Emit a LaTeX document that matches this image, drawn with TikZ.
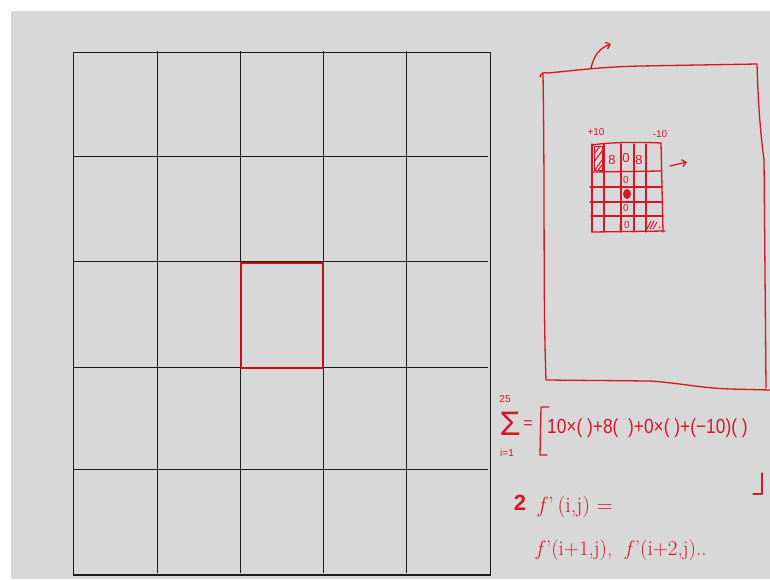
\documentclass[tikz,border=0pt]{standalone}
\usepackage{fontspec}
\setsansfont{Liberation Sans}
\usetikzlibrary{arrows.meta}
\definecolor{bg}{RGB}{216,216,216}
\definecolor{ink}{RGB}{28,28,28}
\definecolor{pen}{RGB}{214,22,38}
\definecolor{boxred}{RGB}{196,14,22}
\begin{document}
\begin{tikzpicture}[x=1pt,y=-1pt,
  gridout/.style={draw=ink,line width=1.6pt},
  gridin/.style={draw=ink,line width=1pt},
  hl/.style={draw=boxred,line width=2pt},
  pen/.style={draw=pen,line width=1.3pt,line cap=round,line join=round},
  hand/.style={text=pen,inner sep=0pt,font=\sffamily},
  small/.style={hand,font=\sffamily\fontsize{10}{10}\selectfont},
  cell/.style={hand,font=\sffamily\fontsize{13}{13}\selectfont},
  barb/.style={-{Straight Barb[length=4pt,width=7pt]}},
]
\useasboundingbox (0,0) rectangle (770,579);
\fill[white] (0,0) rectangle (770,579);
\fill[bg] (11,11) rectangle (770,579);
% big grid
\foreach \x in {157.3,240.3,323.3,406.3} \draw[gridin] (\x,51) -- (\x,573);
\foreach \y in {156,261.3,367.7,469.7} \draw[gridin] (72.5,\y) -- (487.7,\y);
\draw[gridout] (73.3,52.3) rectangle (490.3,575);
\draw[hl] (240.7,262.7) rectangle (323.3,367.7);
% hand-drawn image frame
\draw[pen] (540,77) .. controls (541,73) and (543,72) .. (548,73)
  .. controls (580,70) and (600,67) .. (640,66) -- (757,64)
  .. controls (758,100) and (760,130) .. (764,160) -- (766,388);
\draw[pen] (543,74) .. controls (545,200) and (543,300) .. (546,380)
  -- (650,381) .. controls (680,383) and (700,388) .. (730,389) -- (770,390);
\draw[pen,barb] (591,68) .. controls (594,55) and (600,48) .. (611,44);
% small kernel grid
\draw[pen] (592,145) .. controls (610,142) and (640,142) .. (661,143);
\foreach \x in {592,604,621,634,646} \draw[pen] (\x,144) -- (\x,232);
\draw[pen] (661,143) -- (663,232);
\draw[pen] (592,172) -- (661,171);
\draw[pen] (590,187) -- (662,187);
\draw[pen] (590,202) -- (662,202);
\draw[pen] (591,216) -- (663,216);
\draw[pen] (592,232) -- (665,231);
% hatches
\draw[pen,line width=1pt] (594,146) rectangle (602,170);
\draw[pen,line width=1pt] (594,154) -- (600,146) (594,162) -- (602,151) (595,170) -- (602,160) (598,170) -- (602,165);
\draw[pen,line width=1pt] (647,229) -- (651,221) (650,229) -- (654,221) (653,229) -- (657,222) (659,228) -- (660,227);
\draw[pen,line width=1pt] (620,224) -- (620,230) -- (622,229);
% kernel labels
\node[small] (p10) at (596,132) {+10};
\node[small] (m10) at (660,134) {-10};
\node[cell] (c8a) at (612,160) {8};
\node[cell] (c0a) at (626,158) {0};
\node[cell] (c8b) at (639,160) {8};
\node[small] (c0b) at (626,180) {0};
\fill[fill=pen] (627,194) ellipse (4 and 5);
\node[small] (c0c) at (626,208) {0};
\node[small] (c0d) at (627,225) {0};
\coordinate (arA) at (670,166);
\coordinate (arB) at (687,162);
\draw[pen,barb] (arA) -- (arB);
% sum formula
\node[hand,font=\sffamily\fontsize{34}{34}\selectfont] (sig) at (510,424) {Σ};
\node[small] (n25) at (505,399) {25};
\node[small] (i1) at (507,453) {i=1};
\node[hand,font=\sffamily\fontsize{16}{16}\selectfont] (eq) at (528,425) {=};
\draw[pen] (549,407) -- (541,407) -- (540,455) -- (547,455);
\node[hand,anchor=west,font=\sffamily\fontsize{17}{17}\selectfont] (expr) at (547,428) {\scalebox{1.02}[1.2]{10×( )+8(\ \ )+0×( )+(−10)( )}};
\draw[pen] (762,473) -- (762,494) -- (753,494);
% derivative text
\node[hand,font=\sffamily\bfseries\fontsize{22}{22}\selectfont] (two) at (520,503) {2};
\node[hand,anchor=west,font=\rmfamily\fontsize{22}{22}\selectfont] (fij) at (538,507) {{\itshape f}\,'\,(i,j) =};
\node[hand,anchor=west,font=\rmfamily\fontsize{21}{21}\selectfont] (fnext) at (536,550) {{\itshape f}\,'(i+1,j),\ \ {\itshape f}\,'(i+2,j)..};
\end{tikzpicture}
\end{document}
